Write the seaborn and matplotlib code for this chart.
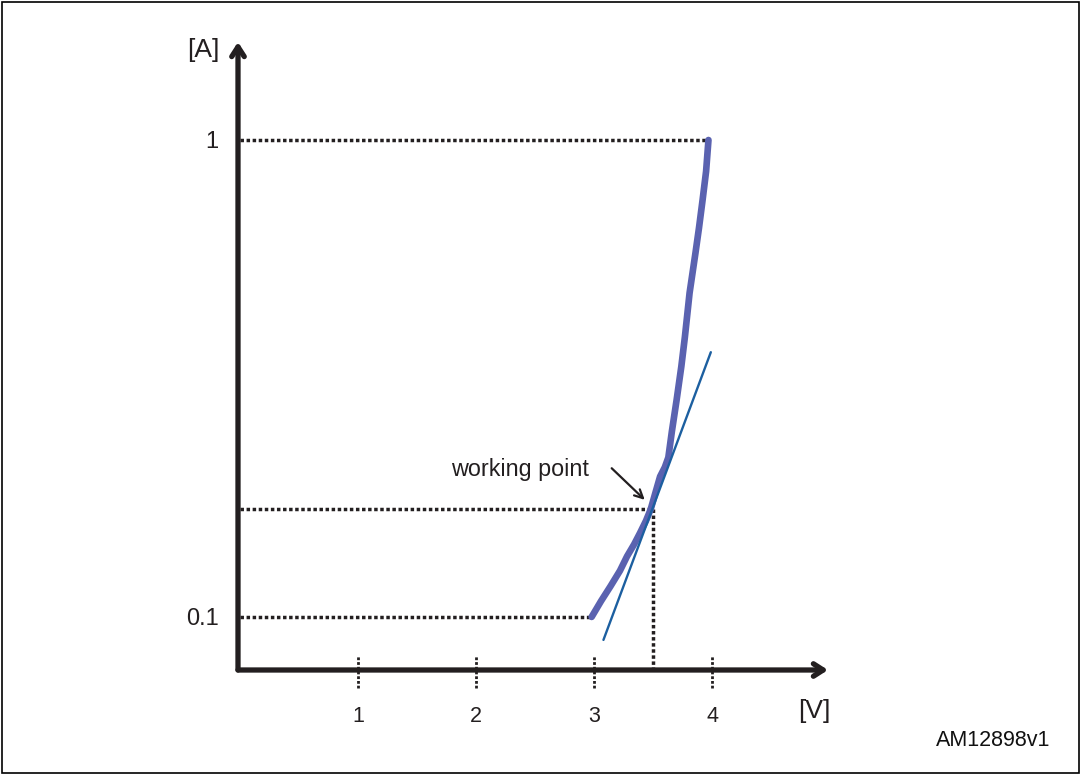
import matplotlib
matplotlib.use("Agg")
import matplotlib.pyplot as plt
import seaborn as sns
import pandas as pd
from matplotlib.patches import Rectangle

# forward characteristic (V, A)
curve_v = [2.98, 3.06, 3.14, 3.22, 3.28, 3.34, 3.39, 3.44, 3.48, 3.52, 3.56, 3.60, 3.63, 3.66,
           3.70, 3.74, 3.77, 3.81, 3.86, 3.89, 3.92, 3.95, 3.97]
curve_i = [0.100, 0.108, 0.116, 0.125, 0.134, 0.142, 0.150, 0.159, 0.168, 0.182, 0.197, 0.206,
           0.216, 0.245, 0.285, 0.335, 0.386, 0.478, 0.580, 0.655, 0.748, 0.860, 1.0]

# tangent at the working point
tangent_v = [3.08, 3.99]
tangent_i = [0.0895, 0.359]

wp_v = 3.5
wp_i = 0.168

x_ticks = [1, 2, 3, 4]
y_ticks = [0.1, 1]
y_tick_labels = ["0.1", "1"]

sns.set_style("white")
plt.rcParams["font.family"] = ["Liberation Sans", "DejaVu Sans"]

fig = plt.figure(figsize=(10.82, 7.75), dpi=100)
fig.patches.append(Rectangle((0.0015, 0.002), 0.996, 0.995, transform=fig.transFigure,
                             fill=False, lw=1.2, ec="black"))
ax = fig.add_axes([238 / 1082, 105 / 775, 590 / 1082, 628 / 775])
ax.set_yscale("log")
ax.set_xlim(-0.017, 4.983)
ax.set_ylim(0.0774, 1.605)
for s in ax.spines.values():
    s.set_visible(False)

axis_col = "#231f20"
dot = (0, (1, 0.75))

# dotted guide lines
ax.plot([0, curve_v[-1]], [1, 1], color=axis_col, lw=2.5, ls=dot)
ax.plot([0, curve_v[0]], [0.1, 0.1], color=axis_col, lw=2.5, ls=dot)
ax.plot([0, wp_v], [wp_i, wp_i], color=axis_col, lw=2.5, ls=dot)
ax.plot([wp_v, wp_v], [wp_i, 0.0774], color=axis_col, lw=2.5, ls=dot)

df = pd.DataFrame({"V": curve_v, "I": curve_i})
sns.lineplot(data=df, x="V", y="I", ax=ax, color="#5a62b0", lw=4.8, sort=False)
tg = pd.DataFrame({"V": tangent_v, "I": tangent_i})
sns.lineplot(data=tg, x="V", y="I", ax=ax, color="#1c5fa0", lw=1.7, sort=False)

# axes with arrows
head = "->,head_length=0.7,head_width=0.45"
ax.annotate("", xy=(1.0, 0), xytext=(0, 0), xycoords="axes fraction",
            arrowprops=dict(arrowstyle=head, lw=3.8, color=axis_col, shrinkA=0, shrinkB=0))
ax.annotate("", xy=(0, 1.0), xytext=(0, 0), xycoords="axes fraction",
            arrowprops=dict(arrowstyle=head, lw=3.8, color=axis_col, shrinkA=0, shrinkB=0))

# dotted tick marks on the x axis
ax.vlines(x_ticks, -0.029, 0.024, transform=ax.get_xaxis_transform(),
          color=axis_col, lw=2.0, ls=(0, (1, 0.7)), clip_on=False)

ax.set_xticks(x_ticks)
ax.set_xticklabels([str(t) for t in x_ticks])
ax.set_yticks(y_ticks)
ax.set_yticklabels(y_tick_labels)
ax.minorticks_off()
ax.tick_params(axis="x", length=0, pad=26, labelsize=15.5, colors="#231f20")
ax.tick_params(axis="y", length=0, pad=14, labelsize=17, colors="#231f20")
ax.set_xlabel("")
ax.set_ylabel("")

ax.text(-0.059, 0.987, "[A]", transform=ax.transAxes, ha="center", va="center",
        fontsize=19, color="#231f20")
ax.text(0.976, -0.065, "[V]", transform=ax.transAxes, ha="center", va="center",
        fontsize=19, color="#231f20")

ax.text(2.37, 0.204, "working point", ha="center", va="center", fontsize=16.8,
        color="#231f20")
ax.annotate("", xy=(3.43, 0.176), xytext=(3.15, 0.205),
            arrowprops=dict(arrowstyle="->,head_length=0.6,head_width=0.3", lw=1.6,
                            color="#231f20", shrinkA=0, shrinkB=0))

fig.text(0.918, 0.044, "AM12898v1", ha="center", va="center", fontsize=15.5, color="#111111")

fig.savefig("out.png", dpi=100)
